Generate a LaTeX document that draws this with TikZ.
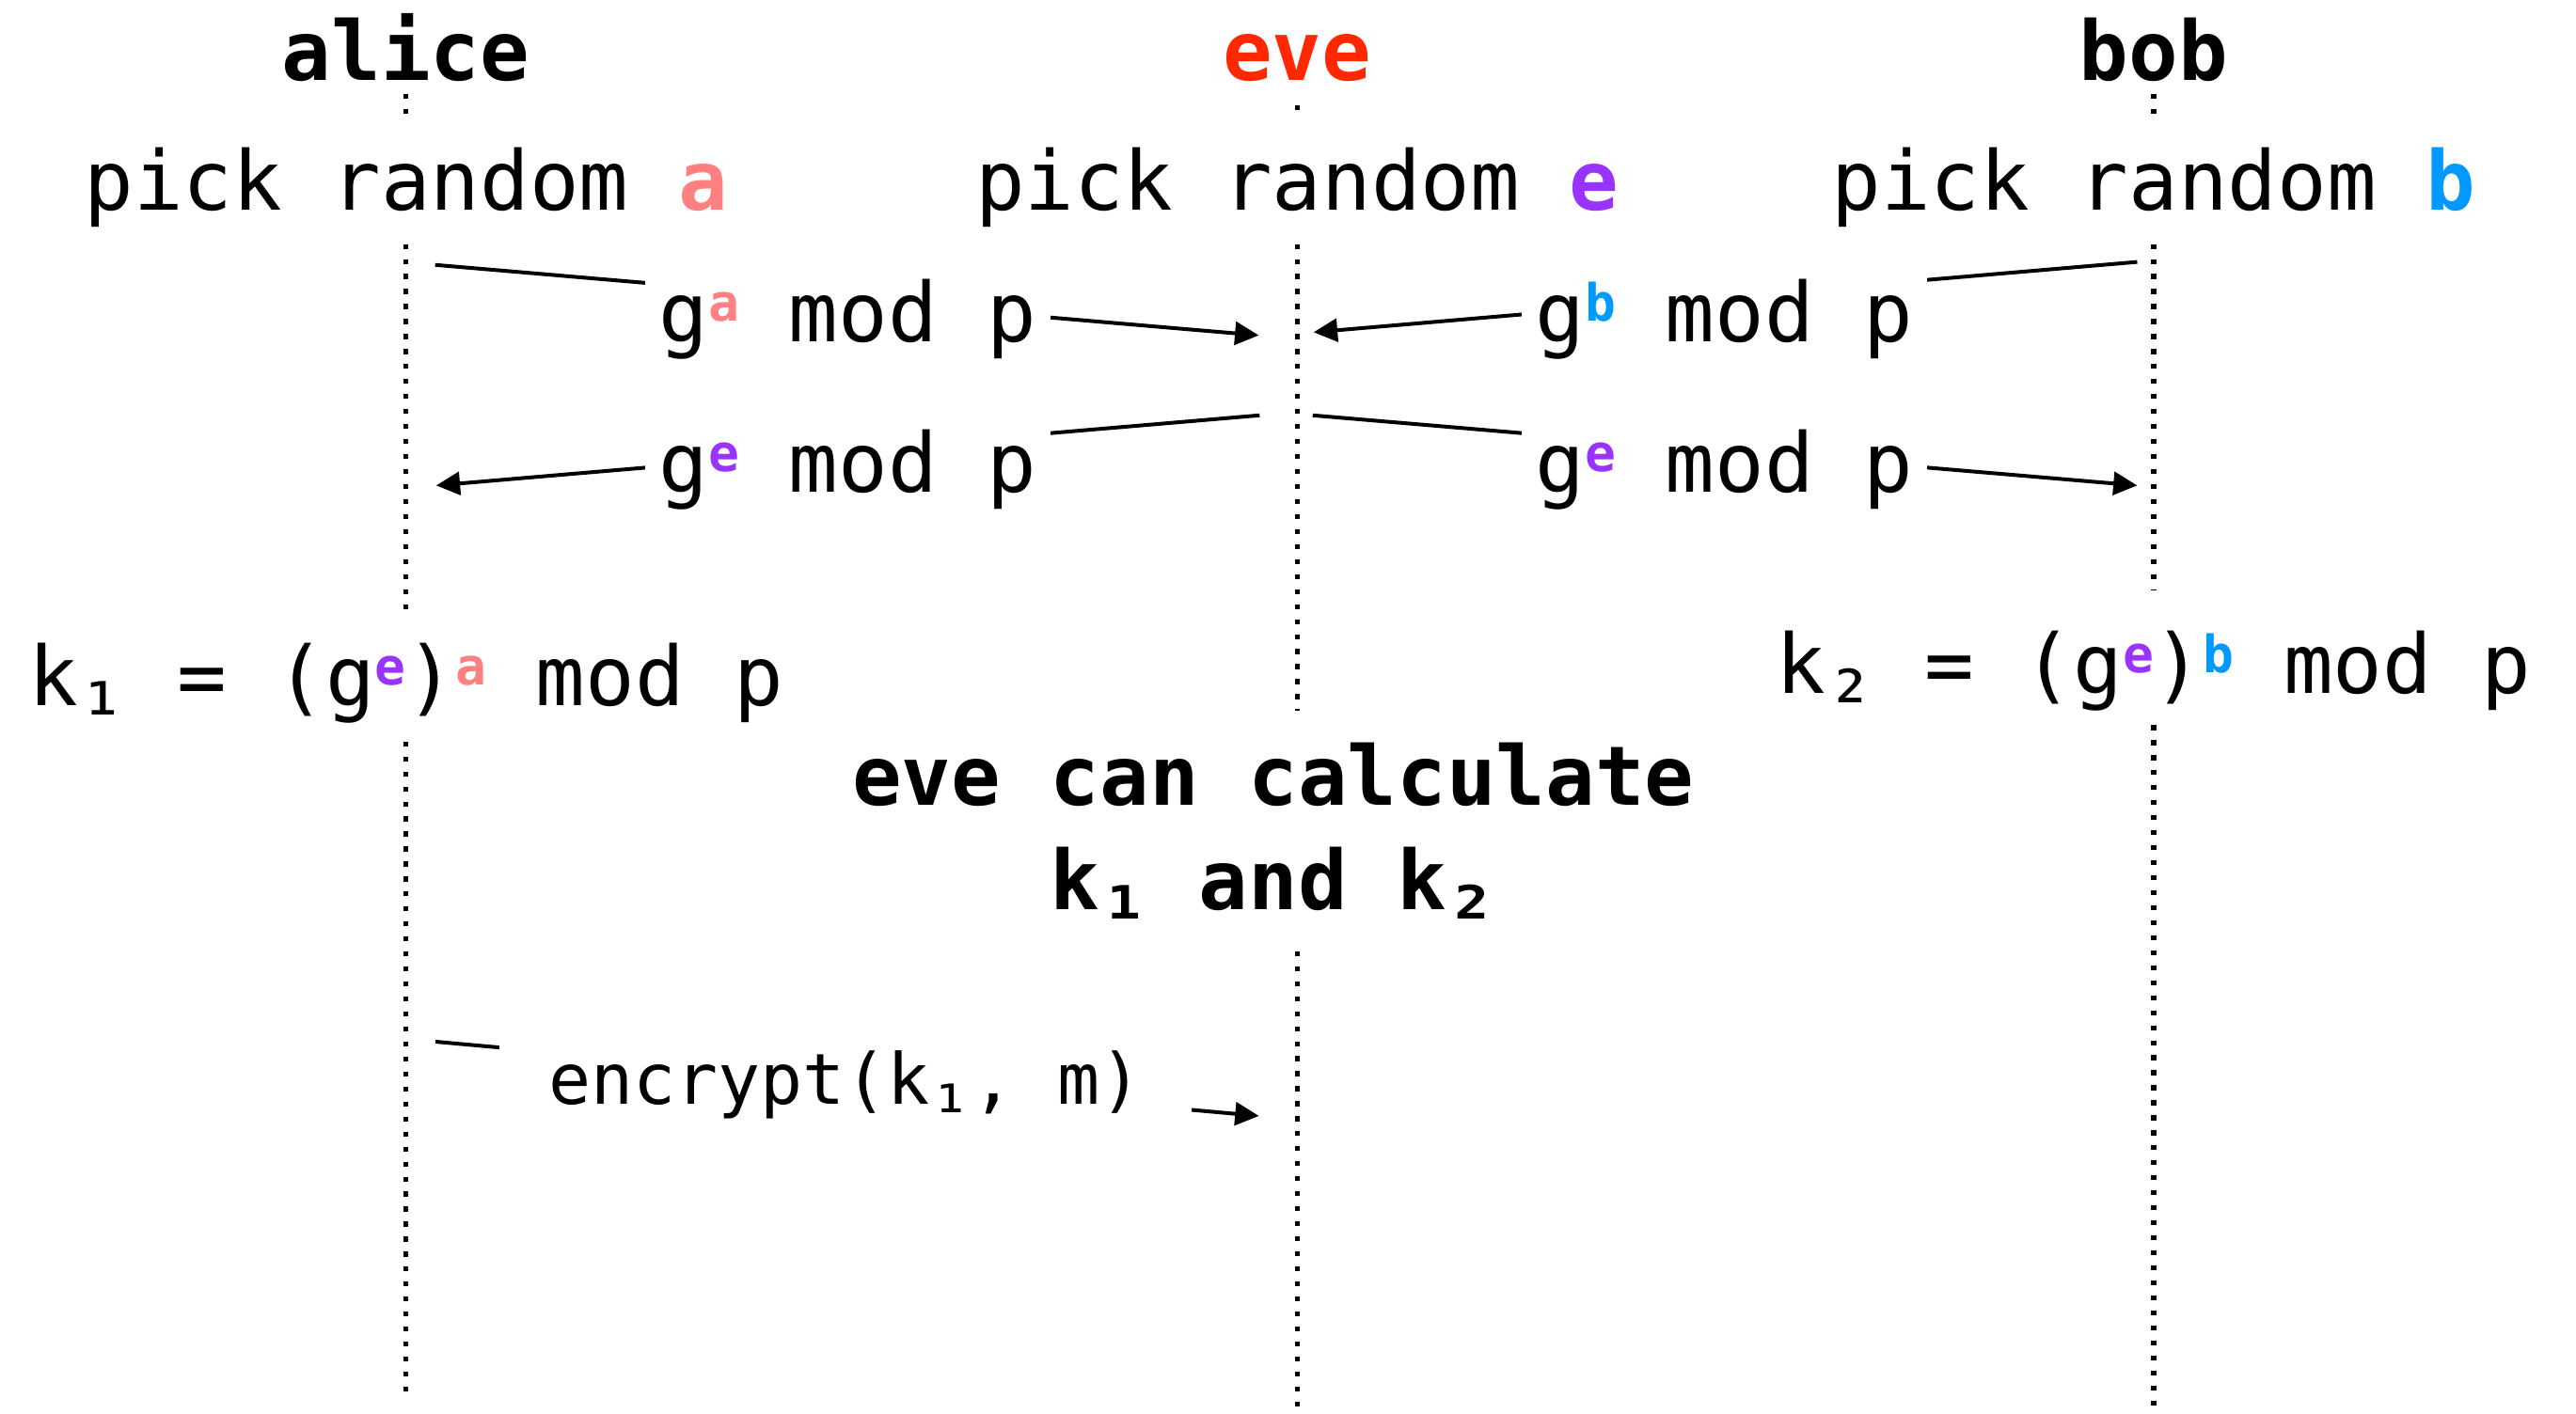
\documentclass[tikz,border=0pt]{standalone}
\usepackage{fontspec}
\setmainfont{DejaVu Sans Mono}
\usetikzlibrary{arrows.meta}
\definecolor{cred}{RGB}{255,40,0}
\definecolor{ca}{RGB}{255,128,128}
\definecolor{ce}{RGB}{153,51,255}
\definecolor{cb}{RGB}{0,153,255}
\newcommand\supr[2]{\raisebox{7pt}{\fontsize{17.8pt}{17.8pt}\selectfont\bfseries\color{#1}#2}}
\newcommand\hl[2]{{\bfseries\color{#1}#2}}
\newcommand\subd[1]{\raisebox{-0.12em}{#1}}
\begin{document}
\begin{tikzpicture}[x=0.02cm,y=-0.02cm,
  txt/.style={inner sep=0pt, anchor=base, font=\fontsize{28.5pt}{36.2pt}\selectfont},
  title/.style={txt, font=\fontsize{28.5pt}{36.2pt}\selectfont\bfseries},
  lbl/.style={txt, fill=white, inner xsep=0.17cm, inner ysep=0.1cm},
  life/.style={line width=1.7pt, dash pattern=on 1.7pt off 3.5pt},
  msg/.style={line width=1.3pt, -{Triangle[length=0.29cm,width=0.28cm]}}]
\useasboundingbox (0,0) rectangle (1568,861);
% titles
\node[title] (alice) at (247.1,49) {alice};
\node[title, text=cred] (eve) at (789.6,49) {eve};
\node[title] (bob) at (1310.9,49) {bob};
% picks
\node[txt] (pa) at (247.1,128) {pick random \hl{ca}{a}};
\node[txt] (pe) at (789.6,128) {pick random \hl{ce}{e}};
\node[txt] (pb) at (1310.9,128) {pick random \hl{cb}{b}};
% keys
\node[txt] (k1) at (247.1,429.5) {k\subd{₁} = (g\supr{ce}{e})\supr{ca}{a} mod p};
\node[txt] (k2) at (1310.9,422) {k\subd{₂} = (g\supr{ce}{e})\supr{cb}{b} mod p};
\node[title, align=center] (calc) at (775,553.7) {eve can calculate\\k\subd{₁} and k\subd{₂}};
% lifeline coordinates
\coordinate (a0) at (247.1,57);  \coordinate (a1) at (247.1,70);
\coordinate (a2) at (247.1,148.6); \coordinate (a3) at (247.1,370.7);
\coordinate (a4) at (247.1,451.5); \coordinate (a5) at (247.1,849);
\coordinate (e0) at (789.6,64);  \coordinate (e1) at (789.6,70);
\coordinate (e2) at (789.6,148.6); \coordinate (e3) at (789.6,432.6);
\coordinate (e4) at (789.6,579.2); \coordinate (e5) at (789.6,857);
\coordinate (b0) at (1310.9,57);  \coordinate (b1) at (1310.9,70);
\coordinate (b2) at (1310.9,148.6); \coordinate (b3) at (1310.9,359.5);
\coordinate (b4) at (1310.9,441.6); \coordinate (b5) at (1310.9,857);
\draw[life] (a0) -- (a1); \draw[life] (a2) -- (a3); \draw[life] (a4) -- (a5);
\draw[life] (e0) -- (e1); \draw[life] (e2) -- (e3); \draw[life] (e4) -- (e5);
\draw[life] (b0) -- (b1); \draw[life] (b2) -- (b3); \draw[life] (b4) -- (b5);
% message end points
\coordinate (m1s) at (264.9,161.3); \coordinate (m1e) at (766.2,204.2);
\coordinate (m2s) at (1300.9,159.5); \coordinate (m2e) at (799.6,202.3);
\coordinate (m3s) at (766.7,252.9); \coordinate (m3e) at (265.5,295.6);
\coordinate (m4s) at (799,252.9); \coordinate (m4e) at (1300.9,295.6);
\coordinate (m5s) at (265.1,634.3); \coordinate (m5e) at (766.3,679.5);
\draw[msg] (m1s) -- (m1e);
\draw[msg] (m2s) -- (m2e);
\draw[msg] (m3s) -- (m3e);
\draw[msg] (m4s) -- (m4e);
\draw[msg] (m5s) -- (m5e);
% labels
\node[lbl] (l1) at (516,208) {g\supr{ca}{a} mod p};
\node[lbl] (l2) at (1049.5,208) {g\supr{cb}{b} mod p};
\node[lbl] (l3) at (516,299.6) {g\supr{ce}{e} mod p};
\node[lbl] (l4) at (1049.5,299.6) {g\supr{ce}{e} mod p};
\node[lbl, inner xsep=0.6cm, font=\fontsize{24.4pt}{30pt}\selectfont] (l5) at (514.5,672.4) {encrypt(k\subd{₁}, m)};
\end{tikzpicture}
\end{document}
